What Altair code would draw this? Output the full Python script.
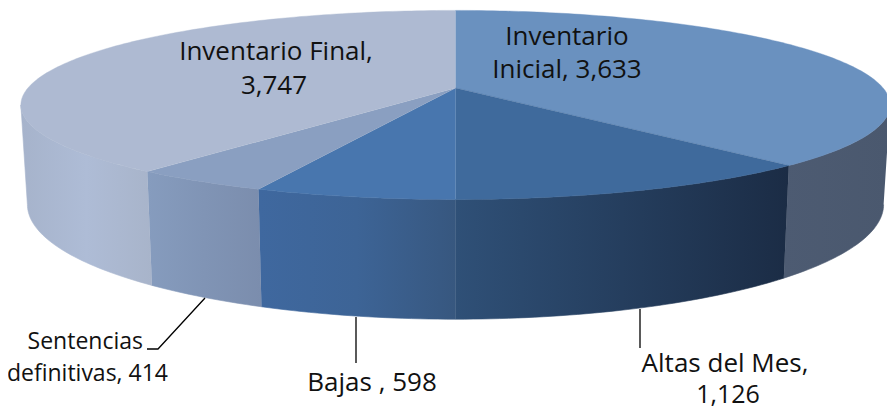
import math
import altair as alt
import pandas as pd

# ---- chart values
categories = ["Inventario Inicial", "Altas del Mes", "Bajas", "Sentencias definitivas", "Inventario Final"]
values = [3633, 1126, 598, 414, 3747]
top_colors = ["#6a91bf", "#3f6a9c", "#4876ae", "#8a9fc1", "#aebad2"]
wall_stops = [
    ["#4d5b72", "#4a586e"],
    ["#2f5077", "#253e5e", "#1b2c45"],
    ["#3f689f", "#3d6496", "#37577f"],
    ["#869cbe", "#8094b5", "#7b8dad"],
    ["#a6b3cb", "#aebcd6", "#a8b4ca"],
]
label_lines = ["Inventario", "Inicial, 3,633", "Inventario Final,", "3,747", "Sentencias",
               "definitivas, 414", "Bajas , 598", "Altas del Mes,", "1,126"]
label_x = [567, 567, 276, 274, 143, 168, 372, 725, 728]
label_y = [45, 78, 60, 94, 349, 381, 391, 372, 403]
label_align = ["center", "center", "center", "center", "right", "right", "center", "center", "center"]
label_size = [26, 26, 26, 26, 23, 23, 26, 26, 25]
leaders = [
    [(147, 349), (158, 349), (205, 298)],
    [(356, 317), (356, 363)],
    [(640, 309), (640, 348)],
]

# ---- view of the tilted disc (pixel space of the page)
CX, CY, AX, BY, K = 455.5, 88, 427.6, 91.5, 0.179
BOT_Y0, BOT_B, BOT_F = 184, 111, 0.985
W, H, M = 879, 403, 8


def rim(deg, bottom=False):
    a = math.radians(deg)
    s, c = math.sin(a), math.cos(a)
    d = 1 + K * c
    x = AX * s / d
    t = -c / d
    if bottom:
        return CX + BOT_F * x, BOT_Y0 + BOT_B * t
    return CX + x, CY + BY * t


EDGE_R = math.degrees(math.acos(-K))
EDGE_L = 360 - EDGE_R
total = sum(values)
bounds = [0]
for v in values:
    bounds.append(bounds[-1] + v / total * 360)


def sweep(a, b):
    n = max(2, int(abs(b - a)) + 1)
    return [a + (b - a) * i / n for i in range(n + 1)]


xs = alt.Scale(domain=[M, M + W], range=[0, W], nice=False, zero=False)
ys = alt.Scale(domain=[M + H, M], range=[H, 0], nice=False, zero=False)
X = lambda: alt.X("x:Q", scale=xs, axis=None)
Y = lambda: alt.Y("y:Q", scale=ys, axis=None)


def poly(points, **mark):
    df = pd.DataFrame({"x": [p[0] for p in points], "y": [p[1] for p in points], "i": range(len(points))})
    return alt.Chart(df).mark_line(filled=True, interpolate="linear", clip=True, **mark).encode(
        x=X(), y=Y(), order=alt.Order("i:Q"))


layers = []
# side walls
for i in range(len(values)):
    a, b = max(bounds[i], EDGE_R), min(bounds[i + 1], EDGE_L)
    if a >= b:
        continue
    pts = [rim(t) for t in sweep(a, b)] + [rim(t, True) for t in sweep(b, a)]
    cols = wall_stops[i]
    stops = [alt.GradientStop(offset=j / (len(cols) - 1), color=c) for j, c in enumerate(cols)]
    grad = alt.LinearGradient(gradient="linear", stops=stops, x1=0, x2=1, y1=0, y2=0)
    layers.append(poly(pts, fill=grad, stroke=grad, strokeWidth=0.6))
# top faces
for i in range(len(values)):
    pts = [(CX, CY)] + [rim(t) for t in sweep(bounds[i], bounds[i + 1])]
    layers.append(poly(pts, fill=top_colors[i], stroke=top_colors[i], strokeWidth=0.4))
# leader lines
for seg in leaders:
    df = pd.DataFrame({"x": [p[0] for p in seg], "y": [p[1] for p in seg], "i": range(len(seg))})
    layers.append(alt.Chart(df).mark_line(color="#000000", strokeWidth=1.3).encode(
        x=X(), y=Y(), order=alt.Order("i:Q")))
# labels
for t, x, y, al, sz in zip(label_lines, label_x, label_y, label_align, label_size):
    df = pd.DataFrame({"x": [x], "y": [y], "t": [t]})
    layers.append(alt.Chart(df).mark_text(font="Open Sans", fontSize=sz, color="#111111", align=al,
                                          baseline="alphabetic").encode(x=X(), y=Y(), text="t:N"))

chart = alt.layer(*layers).properties(
    width=W, height=H, padding=0, autosize=alt.AutoSizeParams(type="none"), background="white"
).configure_view(stroke=None)
chart.save("out.html", embed_options={"renderer": "svg", "actions": False})
